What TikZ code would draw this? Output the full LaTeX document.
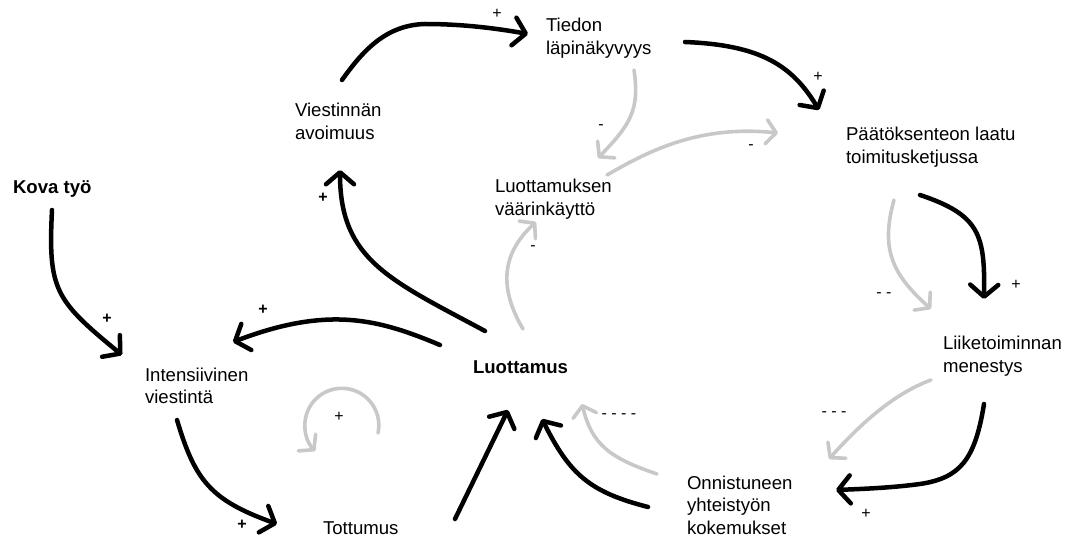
\documentclass[tikz,border=0pt]{standalone}
\usepackage{fontspec}
\setmainfont{Liberation Sans}
\usetikzlibrary{arrows.meta}
\definecolor{linkgray}{RGB}{200,200,200}
\begin{document}
\begin{tikzpicture}[x=1pt,y=-1pt,
  every node/.style={inner sep=0pt,outer sep=0pt},
  % multi-line factors are placed by the baseline of their last line
  factor/.style={anchor=base west,align=left,font=\fontsize{18.6}{22.5}\selectfont},
  keyfactor/.style={anchor=base west,align=left,font=\fontsize{18.6}{22.5}\selectfont\bfseries},
  poslink/.style={draw=black,line width=4.5pt,line cap=round,line join=round,
    -{Straight Barb[length=12pt,width=28pt,round]}},
  neglink/.style={draw=linkgray,line width=3.6pt,line cap=round,line join=round,
    -{Straight Barb[length=10pt,width=24pt,round]}},
  signlabel/.style={font=\fontsize{16}{16}\selectfont},
  boldsign/.style={font=\fontsize{16}{16}\selectfont\bfseries},
]
\useasboundingbox (0,0) rectangle (1071,537);

% factors
\node[factor]    (tiedon)    at (546,54.5)  {Tiedon\\läpinäkyvyys};
\node[factor]    (avoimuus)  at (295,139.5) {Viestinnän\\avoimuus};
\node[factor]    (paatos)    at (846,163.5) {Päätöksenteon laatu\\toimitusketjussa};
\node[keyfactor] (kova)      at (13,194)    {Kova työ};
\node[factor]    (vaarin)    at (495,215.5) {Luottamuksen\\väärinkäyttö};
\node[factor]    (liike)     at (943,372)   {Liiketoiminnan\\menestys};
\node[factor]    (intens)    at (145,403.5) {Intensiivinen\\viestintä};
\node[keyfactor] (luottamus) at (473,373)   {Luottamus};
\node[factor]    (onnist)    at (687,534)   {Onnistuneen\\yhteistyön\\kokemukset};
\node[factor]    (tottumus)  at (323,534)   {Tottumus};

% connector end points
\coordinate (avo-out)  at (342,80);   \coordinate (tie-in)   at (528,34);
\coordinate (tie-out)  at (685,42);   \coordinate (paa-in)   at (819,110);
\coordinate (paa-out)  at (920,195);  \coordinate (lii-in)   at (984,299);
\coordinate (paa-outg) at (894,200);  \coordinate (lii-ing)  at (931,309);
\coordinate (lii-out)  at (984,404);  \coordinate (onn-in)   at (836,490);
\coordinate (lii-outg) at (931,380);  \coordinate (onn-ing)  at (829,459);
\coordinate (onn-out)  at (648,507);  \coordinate (luo-in-o) at (542,419);
\coordinate (onn-outg) at (657,474);  \coordinate (luo-ing)  at (582,404);
\coordinate (tot-out)  at (455,519);  \coordinate (luo-in-t) at (508,410);
\coordinate (luo-outg) at (523,329);  \coordinate (vaa-in)   at (536,222);
\coordinate (tie-outg) at (634,70);   \coordinate (vaa-in2)  at (598,158);
\coordinate (vaa-out)  at (607,175);  \coordinate (paa-ing)  at (778,133);
\coordinate (kov-out)  at (52,210);   \coordinate (int-in-k) at (122,355);
\coordinate (luo-out-a) at (485,331); \coordinate (avo-in)   at (340,170);
\coordinate (luo-out-i) at (440,345); \coordinate (int-in-l) at (233,342);
\coordinate (int-out)  at (177,420);  \coordinate (tot-in)   at (277,524);
\coordinate (loop-start) at (378,433);

% reinforcing links
\draw[poslink] (avo-out) .. controls (362,52) and (385,25) .. (425,24)
                         .. controls (465,24) and (500,29) .. (tie-in);
\draw[poslink] (tie-out) .. controls (760,45) and (792,65) .. (paa-in);
\draw[poslink] (paa-out) .. controls (980,215) and (985,235) .. (lii-in);
\draw[poslink] (lii-out) .. controls (975,460) and (960,478) .. (920,484)
                         .. controls (890,488) and (860,489) .. (onn-in);
\draw[poslink] (onn-out) .. controls (590,492) and (570,475) .. (luo-in-o);
\draw[poslink] (tot-out) -- (luo-in-t);
\draw[poslink] (kov-out) .. controls (48,290) and (55,300) .. (int-in-k);
\draw[poslink] (luo-out-a) .. controls (390,280) and (340,260) .. (avo-in);
\draw[poslink] (luo-out-i) .. controls (380,320) and (330,305) .. (int-in-l);
\draw[poslink] (int-out) .. controls (195,480) and (210,500) .. (tot-in);

% weakening links
\draw[neglink] (paa-outg) .. controls (880,250) and (893,275) .. (lii-ing);
\draw[neglink] (lii-outg) .. controls (890,395) and (855,430) .. (onn-ing);
\draw[neglink] (onn-outg) .. controls (610,458) and (592,445) .. (luo-ing);
\draw[neglink] (luo-outg) .. controls (500,290) and (500,255) .. (vaa-in);
\draw[neglink] (tie-outg) .. controls (640,110) and (630,125) .. (vaa-in2);
\draw[neglink] (vaa-out) .. controls (650,150) and (700,125) .. (paa-ing);

% reinforcing loop marker
\draw[neglink] (loop-start) arc[start angle=12,end angle=-224,radius=37];

% polarity signs
\node[signlabel] (s1) at (497,14)  {+};
\node[signlabel] (s2) at (818,77)  {+};
\node[signlabel] (s3) at (1016,285) {+};
\node[signlabel] (s4) at (866,514) {+};
\node[signlabel] (s5) at (339,417) {+};
\node[boldsign]  (s6) at (323,198) {+};
\node[boldsign]  (s7) at (107,319) {+};
\node[boldsign]  (s8) at (263,310) {+};
\node[boldsign]  (s9) at (242,525) {+};
\node[signlabel] (m1) at (601,127) {-};
\node[signlabel] (m2) at (751,147) {-};
\node[signlabel] (m3) at (533,248) {-};
\node[signlabel] (m4) at (884,295) {- -};
\node[signlabel] (m5) at (834,414) {- - -};
\node[signlabel] (m6) at (619,416) {- - - -};
\end{tikzpicture}
\end{document}
